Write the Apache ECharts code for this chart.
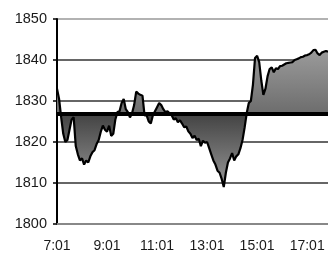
<!DOCTYPE html>
<html>
<head>
<meta charset="utf-8">
<script src="https://cdn.jsdelivr.net/npm/echarts@6/dist/echarts.min.js"></script>
<style>html,body{margin:0;padding:0;background:#fff;}#c{width:328px;height:255px;}</style>
</head>
<body>
<div id="c"></div>
<script>
// Values sampled every 5 minutes starting 7:01
var startTime = '7:01';
var stepMinutes = 5;
var values = [
1833, 1830.5, 1826, 1822, 1820, 1820.5, 1823, 1825.5, 1826, 1819,
1817, 1815.5, 1816, 1814.5, 1815.5, 1815, 1816.5, 1817.5, 1818, 1819.5,
1820.5, 1822.5, 1824, 1823, 1822.5, 1824, 1821.5, 1822, 1825.5, 1827.3,
1827.5, 1829.5, 1830.5, 1828, 1827.3, 1826, 1827, 1829, 1832.3, 1831.8,
1831.5, 1831.3, 1826.5, 1826.5, 1825, 1824.5, 1826.5, 1827.5, 1828.5, 1829.5,
1829, 1828, 1827.3, 1827.5, 1827, 1826.5, 1825.5, 1825.8, 1824.8, 1825.3,
1824.5, 1823.6, 1823.8, 1822.6, 1822, 1821, 1821.5, 1820.5, 1820.8, 1819,
1820.3, 1819.8, 1820, 1818.5, 1817, 1815.5, 1814.5, 1813, 1812.5, 1811,
1809, 1812.5, 1815, 1816, 1817.3, 1815.5, 1816.5, 1817, 1818.5, 1820.5,
1823.5, 1827, 1829.5, 1830, 1834, 1840.5, 1841, 1839.5, 1835, 1831.5,
1833, 1836, 1837.8, 1838.2, 1837, 1838, 1837.8, 1838.5, 1838.6, 1838.9,
1839.2, 1839.3, 1839.4, 1839.5, 1840, 1840.2, 1840.4, 1840.7, 1840.8, 1841.1,
1841.2, 1841.4, 1841.8, 1842.4, 1842.5, 1841.6, 1841.2, 1841.8, 1842, 1842.2,
1842
];
var baseline = 1827;
var yTicks = [1800, 1810, 1820, 1830, 1840, 1850];

function buildCategories(start, step, n) {
  var p = start.split(':');
  var m0 = parseInt(p[0], 10) * 60 + parseInt(p[1], 10);
  var out = [];
  for (var i = 0; i < n; i++) {
    var m = m0 + i * step;
    var h = Math.floor(m / 60), mm = m % 60;
    out.push(h + ':' + (mm < 10 ? '0' : '') + mm);
  }
  return out;
}
var categories = buildCategories(startTime, stepMinutes, values.length);

var chart = echarts.init(document.getElementById('c'), null, {renderer: 'canvas'});
chart.setOption({
  animation: false,
  backgroundColor: '#ffffff',
  grid: {left: 57, right: 0, top: 19, bottom: 31, containLabel: false},
  xAxis: {
    type: 'category',
    data: categories,
    boundaryGap: false,
    axisLine: {show: true, lineStyle: {color: '#888888', width: 2}},
    axisTick: {show: false},
    axisLabel: {interval: 23, margin: 15, color: '#1a1a1a', fontSize: 14,
      fontFamily: 'Liberation Sans, Arial, sans-serif'},
    splitLine: {show: false}
  },
  yAxis: {
    type: 'value',
    min: yTicks[0], max: yTicks[yTicks.length - 1], interval: 10,
    axisLine: {show: true, lineStyle: {color: '#000000', width: 2}},
    axisTick: {show: true, length: 4, lineStyle: {color: '#000000', width: 1.5}},
    axisLabel: {margin: 10, color: '#1a1a1a', fontSize: 14.5,
      fontFamily: 'Liberation Sans, Arial, sans-serif',
      formatter: function (v) { return String(v); }},
    splitLine: {show: true, lineStyle: {color: ['#888888', '#333333', '#333333', '#333333', '#333333', '#999999'], width: 1.5}}
  },
  series: [{
    type: 'line',
    data: values,
    symbol: 'none',
    lineStyle: {color: '#000000', width: 2.2},
    areaStyle: {
      origin: baseline,
      opacity: 1,
      color: new echarts.graphic.LinearGradient(0, 40, 0, 190, [
        {offset: 0, color: '#a2a2a2'},
        {offset: 0.48, color: '#6e6e6e'},
        {offset: 0.5, color: '#444444'},
        {offset: 1, color: '#9a9a9a'}
      ], true)
    },
    markLine: {
      silent: true,
      symbol: 'none',
      label: {show: false},
      lineStyle: {color: '#000000', width: 4, type: 'solid'},
      data: [{yAxis: baseline}]
    },
    z: 3
  }]
});
</script>
</body>
</html>
